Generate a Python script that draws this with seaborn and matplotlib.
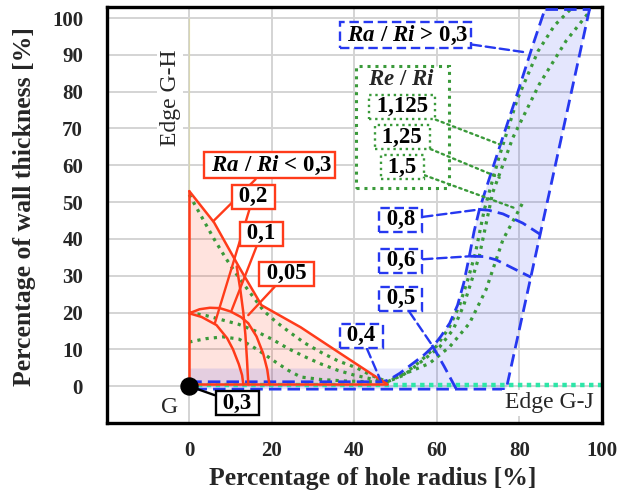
import matplotlib
matplotlib.use("Agg")
import matplotlib.pyplot as plt
import numpy as np
import seaborn as sns
from matplotlib.patches import Rectangle

# ---------------- data ----------------
x_ticks = [0, 20, 40, 60, 80, 100]
y_ticks = [0, 10, 20, 30, 40, 50, 60, 70, 80, 90, 100]

# Ra/Ri < 0.3 zone (red)
red_bnd_x = [0, 6, 12, 17.5, 27, 37, 48]
red_bnd_y = [53, 44.5, 32.5, 22, 16, 8.6, 0.5]
ra02_x = [0, 3, 6.6, 9.2, 10.6, 12, 12.8, 13.1]
ra02_y = [19.8, 18.8, 16.6, 13, 10, 6, 3, 0.5]
ra01_x = [0, 2.5, 5, 7.4, 10, 12.5, 14.3, 16.3, 17.9, 18.9, 19.4]
ra01_y = [19.8, 20.9, 21.3, 21.2, 20.3, 18.8, 17.1, 13.5, 8.9, 4.5, 0.5]
ra005_x = [11.5, 12.4, 13.1, 13.6, 14, 14.3]
ra005_y = [32.5, 26, 20, 14, 7, 0.5]

# Ra/Ri > 0.3 zone (blue)
blue_left_x = [0, 47, 48.5, 51, 54.2, 57, 59, 61, 63.1, 65, 66.5, 67.8, 69, 70.3, 72, 75.2, 79.2, 83.2, 86.2]
blue_left_y = [1.2, 1.2, 1.8, 3.5, 6.2, 8.6, 10.7, 13.6, 17.1, 22, 28, 35, 42, 48, 54, 65, 78.5, 92.5, 102.5]
blue_right_x = [97, 76.8, 0]
blue_right_y = [102.5, -0.8, -0.8]
blue_top_x = [86.2, 97]
blue_top_y = [102.5, 102.5]
blue_band_top = 4.8
ra08_x = [70.3, 72.5, 76, 80.8, 85.1]
ra08_y = [48, 47.8, 46.8, 44.3, 41.2]
ra06_x = [68.2, 71.5, 74.4, 79.2, 82.8]
ra06_y = [35.3, 35.2, 34.3, 31.6, 29.6]
ra05_x = [58.8, 61.7, 64.7]
ra05_y = [11.2, 5.5, -0.8]

# Re/Ri curves (green dotted)
re1125_x = [0, 3, 6, 9, 12, 15, 18, 21, 24.4, 28, 32.4, 36, 40.5, 44, 48, 52, 56, 60, 63, 65.5, 67.5, 69.3,
            71.5, 75, 79.5, 84.5, 88.5, 92.5]
re1125_y = [52, 46, 40, 34.5, 29.5, 25, 20.5, 17.5, 14.6, 11.7, 8.9, 6.9, 5, 3, 1.2, 3.2, 6.8, 11, 16, 22, 29, 36,
            48, 62, 78, 91, 98, 102.5]
re125_x = [0, 4, 8, 12, 16, 20, 24, 28, 32, 36, 40, 44, 48, 52, 56.6, 60.7, 64, 66.5, 68.5, 70.3, 73.5, 78.4,
           84.8, 91.3, 96.5]
re125_y = [20, 19.2, 18, 16.8, 15, 12.8, 10.2, 8, 6, 4.3, 3, 2, 1.2, 3, 7, 10.7, 15.5, 22, 29, 35.5, 52.5, 67.5,
           82, 93.8, 101.1]
re15_x = [0, 4, 8.2, 12, 15, 17.9, 21, 24, 27, 32, 38, 44, 48, 50.2, 54, 58.2, 63.1, 67.9, 71.9, 76, 79, 81.2]
re15_y = [12, 12.9, 13.4, 12.8, 11, 8.9, 6.5, 4.3, 2.5, 1.8, 1.4, 1.2, 1.2, 2.5, 4.2, 6.2, 10.7, 17.1, 26.2,
          39.8, 46, 50.7]

# edges
edge_gh_x = [0, 0]
edge_gh_y = [0, 100]
edge_gj_x = [0, 100]
edge_gj_y = [0.2, 0.2]

# ---------------- style ----------------
sns.set_style("white")
plt.rcParams['font.family'] = ['Liberation Serif', 'DejaVu Serif']
plt.rcParams['mathtext.fontset'] = 'custom'
plt.rcParams['mathtext.rm'] = 'Liberation Serif:bold'
plt.rcParams['mathtext.it'] = 'Liberation Serif:italic:bold'
plt.rcParams['mathtext.bf'] = 'Liberation Serif:bold'

RED = '#ff3b1a'
BLUE = '#2638f0'
GREEN = '#3a9a3a'
TEAL = '#2ee6a8'
YELLOW = '#e6dc2a'
BLUE_DASH = (0, (4.5, 2.2))
GREEN_DOT = (0, (1, 1.6))

fig = plt.figure(figsize=(6.21, 4.99), dpi=100)
ax = fig.add_axes([106.7 / 621, 1 - 423 / 499, 495.3 / 621, 416 / 499])
ax.set_xlim(-20, 100)
ax.set_ylim(-10, 103)
ax.set_xticks(x_ticks)
ax.set_yticks(y_ticks)
ax.grid(True, color='#d4d4d4', lw=1.4)
ax.set_axisbelow(True)

# fills
ax.fill(red_bnd_x + [48, 0], red_bnd_y + [0, 0], color=RED, alpha=0.14, lw=0, zorder=1)
bx = np.array(blue_left_x)
by = np.array(blue_left_y)
xb = np.interp(blue_band_top, by[2:], bx[2:])
mask = by > blue_band_top
poly_x = list(blue_right_x) + [0, xb] + list(bx[mask]) + [97]
poly_y = list(blue_right_y) + [blue_band_top, blue_band_top] + list(by[mask]) + [102.5]
ax.fill(poly_x, poly_y, color=BLUE, alpha=0.12, lw=0, zorder=1)

# edges
sns.lineplot(x=edge_gh_x, y=edge_gh_y, ax=ax, color=YELLOW, lw=3.2, linestyle=(0, (2.4, 1.3)), zorder=2)
sns.lineplot(x=edge_gj_x, y=edge_gj_y, ax=ax, color=TEAL, lw=3.2, linestyle=(0, (1, 1)), zorder=2)


def line(xs, ys, **kw):
    sns.lineplot(x=xs, y=ys, ax=ax, sort=False, estimator=None, **kw)


# green Re/Ri curves
for gx, gy in [(re1125_x, re1125_y), (re125_x, re125_y), (re15_x, re15_y)]:
    line(gx, gy, color=GREEN, lw=2.3, linestyle=GREEN_DOT, zorder=3)

# red lines
line(red_bnd_x, red_bnd_y, color=RED, lw=1.8, zorder=3.5)
line([0, 0], [0, red_bnd_y[0]], color=RED, lw=1.8, zorder=3.5)
line([0, red_bnd_x[-1]], [0.5, red_bnd_y[-1]], color=RED, lw=1.8, zorder=3.5)
for rx, ry in [(ra02_x, ra02_y), (ra01_x, ra01_y), (ra005_x, ra005_y)]:
    line(rx, ry, color=RED, lw=1.8, zorder=3.5)

# blue lines
line(blue_left_x, blue_left_y, color=BLUE, lw=2.0, linestyle=BLUE_DASH, zorder=3.2)
line(blue_right_x, blue_right_y, color=BLUE, lw=2.0, linestyle=BLUE_DASH, zorder=3.2)
line(blue_top_x, blue_top_y, color=BLUE, lw=2.0, linestyle=BLUE_DASH, zorder=3.2)
for cx, cy in [(ra08_x, ra08_y), (ra06_x, ra06_y), (ra05_x, ra05_y)]:
    line(cx, cy, color=BLUE, lw=2.0, linestyle=BLUE_DASH, zorder=3.2)

# point G
sns.scatterplot(x=[0], y=[0], ax=ax, color='black', s=150, zorder=7, edgecolor='black')

FS = 16.5


def label(text, xt, yt, xp=None, yp=None, ec='black', ls='-', als='-', fs=FS, pad=0.07):
    arrow = None
    if xp is not None:
        arrow = dict(arrowstyle='-', color=ec, lw=1.7, linestyle=als, shrinkA=0, shrinkB=0)
    ax.annotate(' ' + text + ' ', xy=(xp if xp is not None else xt, yp if yp is not None else yt),
                xytext=(xt, yt), ha='center', va='center', fontsize=fs, fontweight='bold', color='black',
                bbox=dict(boxstyle=f'square,pad={pad}', fc='white', ec=ec, lw=1.7, ls=ls),
                arrowprops=arrow, zorder=6)


# red labels
label(r'$Ra\ /\ Ri$ < 0,3', 19.5, 60, 5.8, 44.8, ec=RED)
label('0,2', 15.5, 51.4, 6.2, 17.1, ec=RED)
label('0,1', 17.5, 41.4, 10.3, 20.7, ec=RED)
label('0,05', 23.6, 30.5, 14.3, 19.3, ec=RED)
label('0,3', 11.6, -4.6, 0, 0, ec='black')

# blue labels
BD = (0, (4, 2))
label(r'$Ra\ /\ Ri$ > 0,3', 52.4, 95.4, 82, 90.6, ec=BLUE, ls=BD, als=BD)
label('0,8', 51.2, 45.2, 70.3, 48, ec=BLUE, ls=BD, als=BD)
label('0,6', 51.2, 34.1, 68.2, 35.3, ec=BLUE, ls=BD, als=BD)
label('0,5', 51.2, 23.7, 58.8, 11.2, ec=BLUE, ls=BD, als=BD)
label('0,4', 41.7, 13.7, 46.5, 1.2, ec=BLUE, ls=BD, als=BD)

# green labels
ax.add_patch(Rectangle((40.5, 53.9), 22.4, 33.1, fc='white', ec=GREEN, lw=2.2, ls=GREEN_DOT, zorder=5))
ax.text(51.4, 83.2, r'$Re\ /\ Ri$', ha='center', va='center', fontsize=FS, zorder=6)
label('1,125', 51.6, 75.9, 75.2, 65.7, ec=GREEN, ls=GREEN_DOT, als=GREEN_DOT)
label('1,25', 51.6, 67.6, 75.2, 56.6, ec=GREEN, ls=GREEN_DOT, als=GREEN_DOT)
label('1,5', 51.6, 59.5, 78.8, 48.4, ec=GREEN, ls=GREEN_DOT, als=GREEN_DOT)

# plain texts
ax.text(-4.6, 78.3, 'Edge G-H', rotation=90, ha='center', va='center', fontsize=17,
        bbox=dict(boxstyle='square,pad=0.1', fc='white', ec='none'), zorder=4)
ax.text(-4.7, -5.7, 'G', ha='center', va='center', fontsize=17, zorder=4)
ax.text(87.2, -4.5, 'Edge G-J', ha='center', va='center', fontsize=17,
        bbox=dict(boxstyle='square,pad=0.1', fc='white', ec='none'), zorder=4)

# axes cosmetics
for sp in ax.spines.values():
    sp.set_color('black')
    sp.set_linewidth(2.4)
ax.tick_params(axis='both', direction='in', length=5, width=2, color='black', labelsize=15)
ax.tick_params(axis='x', pad=13)
ax.tick_params(axis='y', pad=17)
for t in ax.get_xticklabels() + ax.get_yticklabels():
    t.set_fontweight('bold')
ax.set_xlabel('Percentage of hole radius [%]', fontsize=18.5, fontweight='bold')
ax.set_ylabel('Percentage of wall thickness [%]', fontsize=18.5, fontweight='bold')
ax.xaxis.set_label_coords(0.537, -0.105)
ax.yaxis.set_label_coords(-0.143, 0.52)

fig.savefig('out.png', dpi=100)
